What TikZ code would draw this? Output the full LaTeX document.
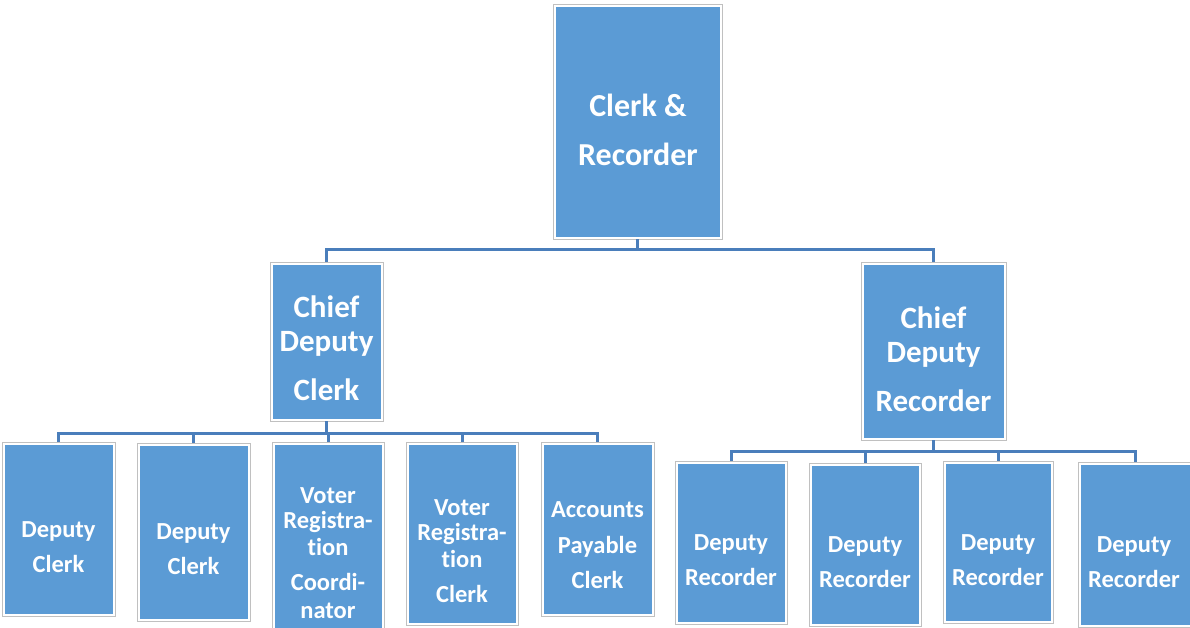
\documentclass[tikz,border=0pt]{standalone}
\usepackage{fontspec}
\setmainfont{Carlito}[Ligatures=NoCommon]
\definecolor{boxblue}{HTML}{5B9BD5}
\definecolor{lineblue}{HTML}{4A7EBB}
\definecolor{framegray}{HTML}{C0C0C0}
\begin{document}
\begin{tikzpicture}[x=1pt,y=-1pt,
  box/.style={rectangle, anchor=north west, inner sep=0pt, outer sep=0pt,
    fill=white, draw=framegray, line width=1pt,
    path picture={\fill[boxblue] ([shift={(2.5pt,2.5pt)}]path picture bounding box.south west) rectangle ([shift={(-2.5pt,-2.5pt)}]path picture bounding box.north east);}},
  txt/.style={text=white, anchor=base, inner sep=0pt, font=\bfseries\fontsize{24.5}{26}\selectfont},
  bigtxt/.style={txt, font=\bfseries\fontsize{32}{34}\selectfont},
  midtxt/.style={txt, font=\bfseries\fontsize{31}{33}\selectfont},
  conn/.style={draw=lineblue, line width=3pt}]
\useasboundingbox (0,0) rectangle (1190,627);
% boxes
\node[box, minimum width=169pt, minimum height=235pt] (top) at (553,4) {};
\node[box, minimum width=113pt, minimum height=159pt] (cdc) at (270,262) {};
\node[box, minimum width=145pt, minimum height=178pt] (cdr) at (861,262) {};
\node[box, minimum width=113pt, minimum height=174pt] (l1) at (2,442) {};
\node[box, minimum width=113pt, minimum height=178pt] (l2) at (137,443) {};
\node[box, minimum width=112pt, minimum height=190pt] (l3) at (272,442) {};
\node[box, minimum width=112pt, minimum height=183pt] (l4) at (406,442) {};
\node[box, minimum width=113pt, minimum height=174pt] (l5) at (541,442) {};
\node[box, minimum width=112pt, minimum height=163pt] (r1) at (675,461) {};
\node[box, minimum width=112pt, minimum height=163pt] (r2) at (809,463) {};
\node[box, minimum width=110pt, minimum height=162pt] (r3) at (943,461) {};
\node[box, minimum width=114pt, minimum height=165pt] (r4) at (1078,462) {};
% connectors
\draw[conn] (top.south) -- ++(0,10) -| (cdc.north);
\draw[conn] (top.south) -- ++(0,10) -| (cdr.north);
\foreach \c in {l1,l2,l3,l4,l5}{\draw[conn] (cdc.south) -- ++(0,12) -| (\c.north);}
\foreach \c in {r1,r2,r3,r4}{\draw[conn] (cdr.south) -- ++(0,11) -| (\c.north);}
% texts
\node[bigtxt] (ta1) at (638,116) {Clerk \&};
\node[bigtxt] (ta2) at (638,165) {Recorder};
\node[midtxt] (tb1) at (326.5,317) {Chief};
\node[midtxt] (tb2) at (326.5,351) {Deputy};
\node[midtxt] (tb3) at (326.5,400) {Clerk};
\node[midtxt] (tc1) at (933.5,328) {Chief};
\node[midtxt] (tc2) at (933.5,362) {Deputy};
\node[midtxt] (tc3) at (933.5,411) {Recorder};
\node[txt] (t11) at (58.5,537) {Deputy};
\node[txt] (t12) at (58.5,572) {Clerk};
\node[txt] (t21) at (193.5,539) {Deputy};
\node[txt] (t22) at (193.5,574) {Clerk};
\node[txt] (t31) at (328,503) {Voter};
\node[txt] (t32) at (328,528) {Registra-};
\node[txt] (t33) at (328,555) {tion};
\node[txt] (t34) at (328,590) {Coordi-};
\node[txt] (t35) at (328,618) {nator};
\node[txt] (t41) at (462,515) {Voter};
\node[txt] (t42) at (462,540) {Registra-};
\node[txt] (t43) at (462,567) {tion};
\node[txt] (t44) at (462,602) {Clerk};
\node[txt] (t51) at (597.5,517) {Accounts};
\node[txt] (t52) at (597.5,553) {Payable};
\node[txt] (t53) at (597.5,588) {Clerk};
\node[txt] (r11) at (731,550) {Deputy};
\node[txt] (r12) at (731,585) {Recorder};
\node[txt] (r21) at (865,552) {Deputy};
\node[txt] (r22) at (865,587) {Recorder};
\node[txt] (r31) at (998,550) {Deputy};
\node[txt] (r32) at (998,585) {Recorder};
\node[txt] (r41) at (1134,552) {Deputy};
\node[txt] (r42) at (1134,587) {Recorder};
\end{tikzpicture}
\end{document}
